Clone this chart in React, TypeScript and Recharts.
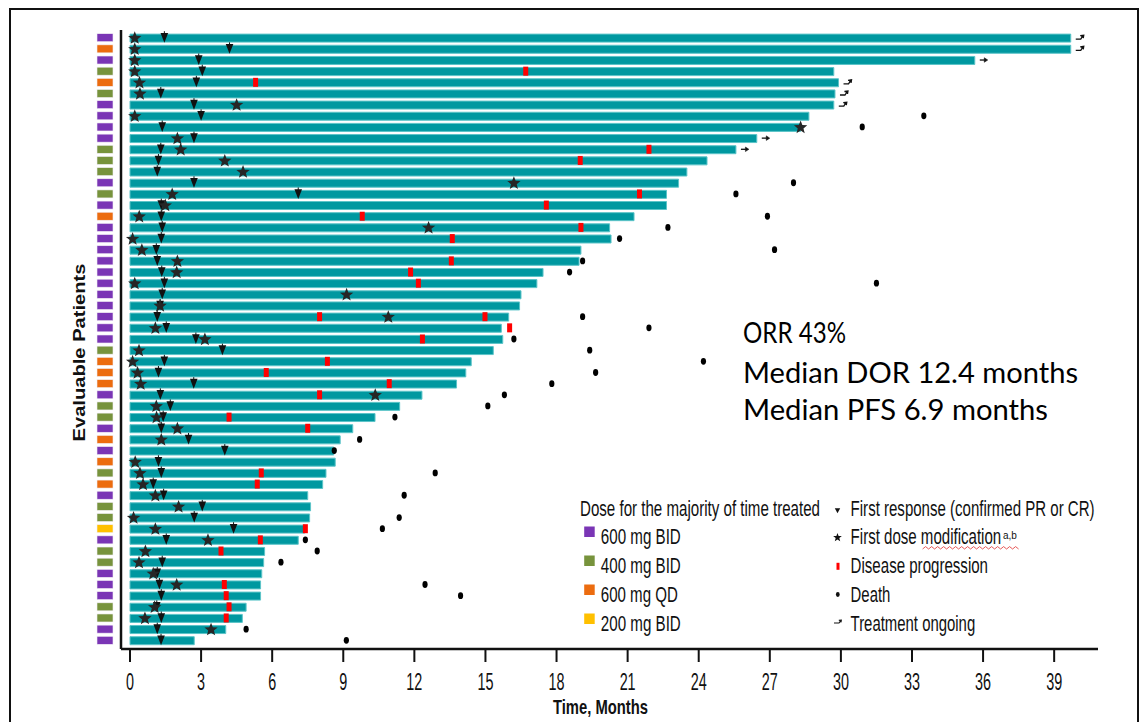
import React from 'react';
import { ComposedChart, Bar, Scatter, XAxis, YAxis, Legend, Label } from 'recharts';

const doseLevels = ['600 mg BID', '400 mg BID', '600 mg QD', '200 mg BID'];
const doseColors = ['#7a35b5', '#77933c', '#ec6c0f', '#ffc000'];

// months on treatment, top patient first
const duration = [
  39.7, 39.7, 35.65, 29.7, 29.9, 29.75, 29.7, 28.65, 28.3, 26.45,
  25.57, 24.35, 23.5, 23.15, 22.64, 22.64, 21.27, 20.24, 20.3, 19.03,
  18.95, 17.43, 17.17, 16.5, 16.44, 15.98, 15.67, 15.73, 15.33, 14.4,
  14.17, 13.78, 12.32, 11.38, 10.34, 9.4, 8.87, 8.6, 8.66, 8.27,
  8.13, 7.5, 7.62, 7.58, 7.38, 7.1, 5.68, 5.64, 5.56, 5.51,
  5.51, 4.9, 4.74, 4.04, 2.71,
];

// index into doseLevels
const dose = [
  0, 2, 0, 1, 2, 1, 0, 0, 0, 0,
  1, 1, 1, 0, 1, 0, 2, 0, 0, 0,
  0, 0, 0, 0, 0, 0, 0, 0, 1, 2,
  2, 2, 0, 1, 1, 0, 2, 0, 2, 1,
  2, 0, 1, 1, 3, 0, 1, 1, 0, 0,
  0, 1, 1, 0, 0,
];

// [patient row, month]
const firstResponse = [
  [1, 1.45], [2, 4.2], [3, 2.9], [4, 3.05], [5, 2.8], [6, 1.3], [7, 2.7], [8, 3.0], [9, 1.36], [10, 2.7],
  [11, 1.3], [12, 1.2], [13, 1.15], [14, 2.7], [15, 7.1], [16, 1.32], [17, 1.32], [18, 1.36], [19, 1.32], [20, 1.11],
  [21, 1.15], [22, 1.34], [23, 1.45], [24, 1.36], [25, 1.27], [26, 1.15], [27, 1.53], [28, 2.78], [29, 3.9], [30, 1.45],
  [31, 1.2], [32, 2.69], [33, 1.28], [34, 1.7], [35, 1.4], [36, 1.32], [37, 2.47], [38, 4.0], [39, 1.2], [40, 1.32],
  [41, 0.98], [42, 1.42], [43, 3.05], [44, 2.71], [45, 4.37], [46, 1.53], [48, 1.36], [49, 1.15], [50, 1.24],
  [51, 1.32], [52, 1.13], [53, 1.32], [54, 1.15], [55, 1.31],
];

const firstDoseMod = [
  [1, 0.2], [2, 0.2], [3, 0.2], [4, 0.2], [5, 0.4], [6, 0.42], [7, 4.5], [8, 0.2], [9, 28.3], [10, 2.0],
  [11, 2.14], [12, 4.0], [13, 4.77], [14, 16.2], [15, 1.78], [16, 1.49], [17, 0.39], [18, 12.6], [19, 0.11], [20, 0.5],
  [21, 2.0], [22, 1.97], [23, 0.2], [24, 9.14], [25, 1.27], [26, 10.9], [27, 1.07], [28, 3.16], [29, 0.38], [30, 0.11],
  [31, 0.32], [32, 0.45], [33, 10.35], [34, 1.11], [35, 1.12], [36, 2.0], [37, 1.32], [39, 0.22], [40, 0.42],
  [41, 0.55], [42, 1.07], [43, 2.05], [44, 0.15], [45, 1.07], [46, 3.29], [47, 0.65], [48, 0.38], [49, 0.98], [50, 1.97],
  [52, 1.04], [53, 0.63], [54, 3.42],
];

const progression = [
  [4, 16.7], [5, 5.3], [11, 21.9], [12, 19.0], [15, 21.5], [16, 17.57], [17, 9.8], [18, 19.03], [19, 13.6],
  [21, 13.56], [22, 11.84], [23, 12.17], [26, 8.0], [26, 14.98], [27, 16.02], [28, 12.34], [30, 8.33], [31, 5.75],
  [32, 10.94], [33, 8.0], [35, 4.18], [36, 7.5], [40, 5.54], [41, 5.37], [45, 7.4], [46, 5.5], [47, 3.84],
  [50, 3.98], [51, 4.06], [52, 4.18], [53, 4.06],
];

const death = [
  [8, 33.5], [9, 30.9], [14, 28.0], [15, 25.57], [17, 26.9], [18, 22.7], [19, 20.66], [20, 27.2], [21, 19.1],
  [22, 18.55], [23, 31.5], [26, 19.1], [27, 21.9], [28, 16.2], [29, 19.4], [30, 24.2], [31, 19.65], [32, 17.8],
  [33, 15.8], [34, 15.1], [35, 11.18], [37, 9.69], [38, 8.62], [40, 12.88], [42, 11.57], [44, 11.36], [45, 10.65],
  [46, 7.4], [47, 7.9], [48, 6.37], [50, 12.45], [51, 13.95], [54, 4.9], [55, 9.13],
];

const ongoingRows = [1, 2, 3, 5, 6, 7, 10, 11];
const bentArrowRows = [1, 2, 5, 6, 7];

const monthTicks = [0, 3, 6, 9, 12, 15, 18, 21, 24, 27, 30, 33, 36, 39];

const rows = duration.map((t, i) => ({ row: i + 1, t }));
const rowTicks = rows.map((r) => r.row);
const toPoints = (list: number[][]) => list.map(([row, t]) => ({ row, t }));
const ongoing = ongoingRows.map((row) => ({ row, t: duration[row - 1], bent: bentArrowRows.includes(row) }));

const starPath = (cx: number, cy: number, R: number, r: number) => {
  let d = '';
  for (let i = 0; i < 10; i++) {
    const a = -Math.PI / 2 + (i * Math.PI) / 5;
    const rad = i % 2 === 0 ? R : r;
    d += (i ? 'L' : 'M') + (cx + rad * Math.cos(a)).toFixed(2) + ',' + (cy + rad * Math.sin(a)).toFixed(2);
  }
  return d + 'Z';
};

const Triangle = ({ cx, cy }: any) => (
  <g>
    <line x1={cx} x2={cx} y1={cy - 6.5} y2={cy - 4} stroke="#111" strokeWidth={1} />
    <path d={`M${cx - 3.8},${cy - 4.8} L${cx + 3.8},${cy - 4.8} L${cx},${cy + 5} Z`} fill="#111" />
  </g>
);
const Star = ({ cx, cy }: any) => <path d={starPath(cx, cy + 0.5, 7, 3)} fill="#262626" />;
const Progress = ({ cx, cy }: any) => <rect x={cx - 2.5} y={cy - 4.5} width={5} height={9} fill="#ff0000" />;
const Death = ({ cx, cy }: any) => <ellipse cx={cx} cy={cy} rx={2.6} ry={3.4} fill="#000" />;
const Arrow = ({ cx, cy, payload }: any) =>
  payload.bent ? (
    <g stroke="#111" strokeWidth={1.3} fill="none">
      <path d={`M${cx + 5},${cy + 1.5} L${cx + 10},${cy + 1.5} L${cx + 12},${cy - 1.5}`} />
      <path d={`M${cx + 9.5},${cy - 2} L${cx + 13},${cy - 2.5} L${cx + 12.5},${cy + 0.5}`} fill="#111" />
    </g>
  ) : (
    <g stroke="#111" strokeWidth={1.3} fill="#111">
      <line x1={cx + 5} x2={cx + 10} y1={cy} y2={cy} />
      <path d={`M${cx + 9.5},${cy - 2.3} L${cx + 13},${cy} L${cx + 9.5},${cy + 2.3} Z`} strokeWidth={0.5} />
    </g>
  );

const MonthTick = ({ x, y, payload }: any) => {
  const s = String(payload.value);
  return (
    <text x={x} y={y + 25.5} textAnchor="middle" fontSize={24} fill="#111"
      fontFamily="'Liberation Sans', Arial, sans-serif" textLength={8 * s.length} lengthAdjust="spacingAndGlyphs">
      {s}
    </text>
  );
};

const DoseTick = ({ x, y, payload }: any) => (
  <rect x={x - 16} y={y - 4} width={16} height={8} fill={doseColors[dose[payload.value - 1]]} stroke="#f2eef6" strokeWidth={0.6} />
);

const XTitle = ({ viewBox }: any) => (
  <text x={viewBox.x + viewBox.width / 2 - 9} y={viewBox.y + 65} textAnchor="middle" fontSize={21} fontWeight="bold"
    fill="#111" fontFamily="'Liberation Sans', Arial, sans-serif" textLength={95} lengthAdjust="spacingAndGlyphs">
    Time, Months
  </text>
);

const YTitle = ({ viewBox }: any) => {
  const x = viewBox.x + 85;
  const y = viewBox.y + viewBox.height / 2 + 13;
  return (
    <text x={x} y={y} transform={`rotate(-90 ${x} ${y})`} textAnchor="middle" fontSize={17} fontWeight="bold"
      fill="#111" fontFamily="'Liberation Sans', Arial, sans-serif" textLength={178} lengthAdjust="spacingAndGlyphs">
      Evaluable Patients
    </text>
  );
};

const legendText = { fontSize: 22, fill: '#111', fontFamily: "'Liberation Sans', Arial, sans-serif" };
const doseTextWidth = [80, 80, 77, 80];
const markerLegend = [
  { label: 'First response (confirmed PR or CR)', w: 244 },
  { label: 'First dose modification', w: 150.6 },
  { label: 'Disease progression', w: 137.4 },
  { label: 'Death', w: 39.8 },
  { label: 'Treatment ongoing', w: 124.6 },
];

const LegendBox = () => {
  const base = [30.5, 59, 88, 117, 146];
  let wave = '';
  for (let i = 0; i <= 32; i++) wave += (i ? 'L' : 'M') + (362.6 + i * 3).toFixed(1) + ',' + (i % 2 ? 61.6 : 64);
  return (
    <svg width={550} height={160} style={{ display: 'block' }}>
      <text x={20} y={base[0]} {...legendText} textLength={240} lengthAdjust="spacingAndGlyphs">
        Dose for the majority of time treated
      </text>
      {doseLevels.map((d, i) => (
        <g key={d}>
          <rect x={24.2} y={base[i + 1] - 17.5} width={10.5} height={10.5} fill={doseColors[i]} />
          <text x={40.8} y={base[i + 1]} {...legendText} textLength={doseTextWidth[i]} lengthAdjust="spacingAndGlyphs">{d}</text>
        </g>
      ))}
      {markerLegend.map((m, i) => (
        <text key={m.label} x={290.6} y={base[i]} {...legendText} textLength={m.w} lengthAdjust="spacingAndGlyphs">{m.label}</text>
      ))}
      <path d="M274.8,23.3 L280.2,23.3 L277.5,28.3 Z" fill="#111" />
      <path d={starPath(277.5, 52.5, 4.6, 1.9)} fill="#111" />
      <rect x={276.5} y={77.8} width={3} height={7} fill="#ff0000" />
      <ellipse cx={277.8} cy={109.5} rx={1.9} ry={2.4} fill="#111" />
      <g stroke="#111" strokeWidth={1.1} fill="none">
        <path d="M274,138 L279,138 L280.5,136" />
        <path d="M278.8,135.3 L281.3,135.2 L280.9,137.4" fill="#111" />
      </g>
      <text x={443} y={54} fontSize={10} fill="#111" fontFamily="'Liberation Sans', Arial, sans-serif">a,b</text>
      <path d={wave} stroke="#e03030" strokeWidth={0.8} fill="none" />
    </svg>
  );
};

const summary = [
  { text: 'ORR 43%', y: 343, w: 103 },
  { text: 'Median DOR 12.4 months', y: 383, w: 335 },
  { text: 'Median PFS 6.9 months', y: 420, w: 305 },
];

export default function App() {
  return (
    <div style={{ position: 'absolute', left: 0, top: 0, width: 1140, height: 722, background: '#fff', overflow: 'hidden' }}>
      <div style={{ position: 'absolute', left: 9, top: 8, width: 1126, height: 760, border: '2px solid #111' }} />
      <div style={{ position: 'absolute', left: 0, top: 0 }}>
        <ComposedChart width={1140} height={722} data={rows} layout="vertical"
          margin={{ top: 30, right: 42, bottom: 0, left: 0 }}>
          <XAxis type="number" dataKey="t" domain={[-0.38, 40.85]} ticks={monthTicks} interval={0} allowDataOverflow
            height={73} tickSize={13} tickMargin={2} tickLine={{ stroke: '#111', strokeWidth: 2 }}
            axisLine={{ stroke: '#111', strokeWidth: 2.5 }} tick={(p: any) => <MonthTick {...p} />}>
            <Label content={XTitle} />
          </XAxis>
          <YAxis type="number" dataKey="row" domain={[0.31, 55.78]} ticks={rowTicks} interval={0} allowDataOverflow
            width={121} tickLine={false} tickSize={0} tickMargin={8} axisLine={{ stroke: '#111', strokeWidth: 2.5 }}
            tick={(p: any) => <DoseTick {...p} />}>
            <Label content={YTitle} />
          </YAxis>
          <Bar dataKey="t" fill="#0098a0" stroke="#5cc4c8" strokeWidth={1} barSize={8} isAnimationActive={false} />
          <Scatter data={toPoints(progression)} shape={Progress} isAnimationActive={false} />
          <Scatter data={toPoints(death)} shape={Death} isAnimationActive={false} />
          <Scatter data={ongoing} shape={Arrow} isAnimationActive={false} />
          <Scatter data={toPoints(firstResponse)} shape={Triangle} isAnimationActive={false} />
          <Scatter data={toPoints(firstDoseMod)} shape={Star} isAnimationActive={false} />
          <Legend layout="vertical" align="center" verticalAlign="middle" content={LegendBox}
            wrapperStyle={{ position: 'absolute', left: 560, top: 485, width: 550, height: 160 }} />
        </ComposedChart>
      </div>
      <svg width={1140} height={722} style={{ position: 'absolute', left: 0, top: 0, pointerEvents: 'none' }}>
        {summary.map((s) => (
          <text key={s.text} x={743} y={s.y} fontSize={28} fill="#000" fontFamily="Lato, 'Open Sans', sans-serif"
            textLength={s.w} lengthAdjust="spacingAndGlyphs">{s.text}</text>
        ))}
      </svg>
    </div>
  );
}
